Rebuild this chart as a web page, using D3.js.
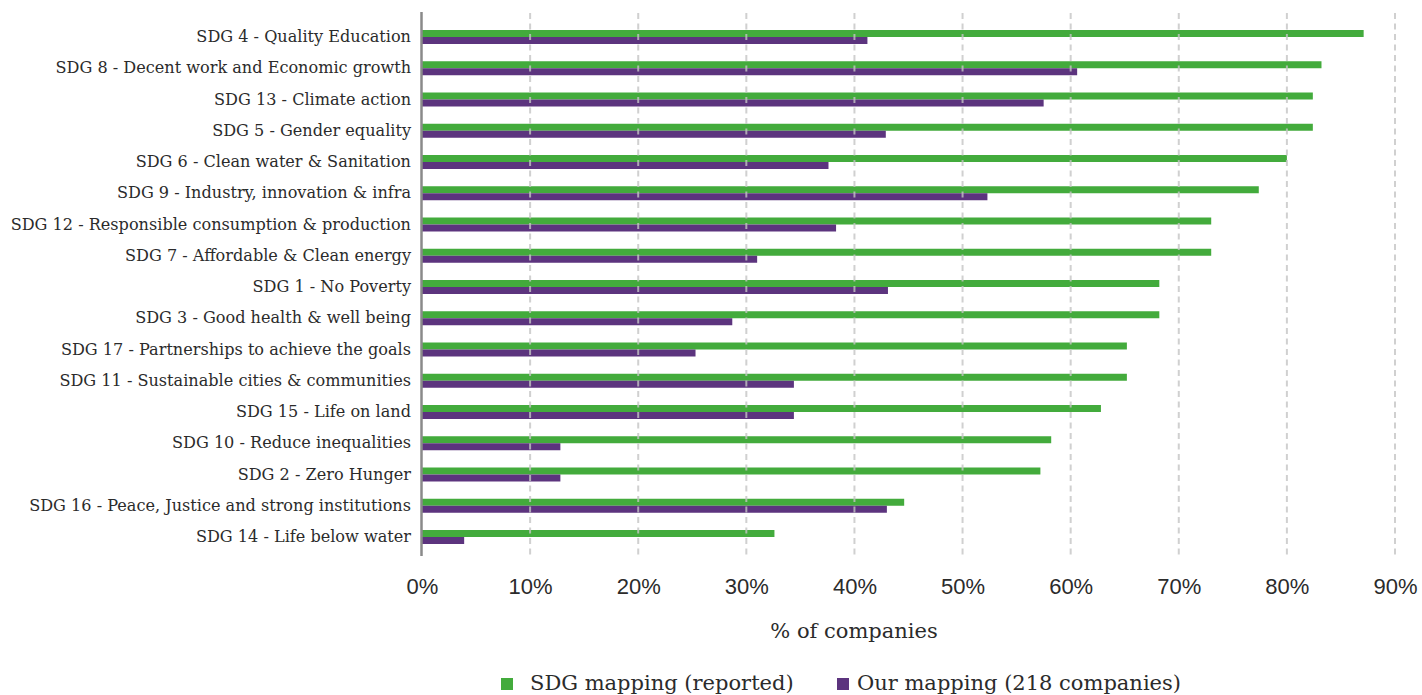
<!DOCTYPE html>
<html>
<head>
<meta charset="utf-8">
<script src="https://cdn.jsdelivr.net/npm/d3@7"></script>
<style>
    body { margin: 0; background: #fff; }
    svg { display: block; }
</style>
</head>
<body>
<svg id="chart" width="1422" height="695"></svg>
<script>
// categories, top to bottom
var categories = [
    "SDG 4 - Quality Education",
    "SDG 8 - Decent work and Economic growth",
    "SDG 13 - Climate action",
    "SDG 5 - Gender equality",
    "SDG 6 - Clean water & Sanitation",
    "SDG 9 - Industry, innovation & infra",
    "SDG 12 - Responsible consumption & production",
    "SDG 7 - Affordable & Clean energy",
    "SDG 1 - No Poverty",
    "SDG 3 - Good health & well being",
    "SDG 17 - Partnerships to achieve the goals",
    "SDG 11 - Sustainable cities & communities",
    "SDG 15 - Life on land",
    "SDG 10 - Reduce inequalities",
    "SDG 2 - Zero Hunger",
    "SDG 16 - Peace, Justice and strong institutions",
    "SDG 14 - Life below water"
];
// SDG mapping (reported), %
var reported = [87.1, 83.2, 82.4, 82.4, 80.0, 77.4, 73.0, 73.0, 68.2, 68.2, 65.2, 65.2, 62.8, 58.2, 57.2, 44.6, 32.6];
// Our mapping (218 companies), %
var ours = [41.2, 60.6, 57.5, 42.9, 37.6, 52.3, 38.3, 31.0, 43.1, 28.7, 25.3, 34.4, 34.4, 12.8, 12.8, 43.0, 3.9];

var ticks = [0, 10, 20, 30, 40, 50, 60, 70, 80, 90];
var seriesNames = ["SDG mapping (reported)", "Our mapping (218 companies)"];
var colors = ["#43ab3c", "#5c347e"];

var svg = d3.select("#chart");
var left = 422, right = 1395;
var serif = "'DejaVu Serif', serif";

var x = d3.scaleLinear().domain([0, 90]).range([left, right]);
var y = d3.scaleBand().domain(categories).range([21.375, 552.625]).paddingInner(0);
var sub = d3.scaleBand().domain(seriesNames).range([-7, 7]);

var rows = categories.map(function (c, i) {
    return { cat: c, vals: [reported[i], ours[i]] };
});

// bars
var g = svg.selectAll("g.row")
    .data(rows)
    .enter()
    .append("g")
    .attr("class", "row")
    .attr("transform", function (d) {
        return "translate(0," + (y(d.cat) + y.bandwidth() / 2) + ")";
    });

g.selectAll("rect")
    .data(function (d) {
        return d.vals.map(function (v, k) { return { v: v, k: k }; });
    })
    .enter()
    .append("rect")
    .attr("x", x(0))
    .attr("y", function (d) { return sub(seriesNames[d.k]); })
    .attr("width", function (d) { return x(d.v) - x(0); })
    .attr("height", sub.bandwidth())
    .attr("fill", function (d) { return colors[d.k]; });

// dashed gridlines, on top of the bars
svg.append("g")
    .selectAll("line")
    .data(ticks.slice(1))
    .enter()
    .append("line")
    .attr("x1", function (d) { return x(d); })
    .attr("x2", function (d) { return x(d); })
    .attr("y1", 13)
    .attr("y2", 556)
    .attr("stroke", "#c4c4c4")
    .attr("stroke-opacity", 0.8)
    .attr("stroke-width", 2)
    .attr("stroke-dasharray", "6,4.5");

// vertical axis line
svg.append("line")
    .attr("x1", left - 0.5).attr("x2", left - 0.5)
    .attr("y1", 12).attr("y2", 556)
    .attr("stroke", "#8a8a8a")
    .attr("stroke-width", 2.5);

// category labels
svg.append("g")
    .selectAll("text")
    .data(categories)
    .enter()
    .append("text")
    .attr("x", left - 11)
    .attr("y", function (d) { return y(d) + y.bandwidth() / 2 + 5; })
    .attr("text-anchor", "end")
    .style("font-family", serif)
    .style("font-size", "16.1px")
    .attr("fill", "#2b2b2b")
    .text(function (d) { return d; });

// x tick labels
var xAxis = d3.axisBottom(x)
    .tickValues(ticks)
    .tickSize(0)
    .tickPadding(0)
    .tickFormat(function (d) { return d + "%"; });

var ax = svg.append("g")
    .attr("transform", "translate(0,578)")
    .call(xAxis);
ax.select(".domain").remove();
ax.selectAll("text")
    .attr("dy", "0.71em")
    .style("font-family", "'Liberation Sans', Arial, sans-serif")
    .style("font-size", "22px")
    .attr("fill", "#2b2b2b");

// axis title
svg.append("text")
    .attr("x", 854)
    .attr("y", 638)
    .attr("text-anchor", "middle")
    .style("font-family", serif)
    .style("font-size", "21px")
    .attr("fill", "#2b2b2b")
    .text("% of companies");

// legend
var legendX = [501, 837];
var lg = svg.append("g")
    .selectAll("g")
    .data(seriesNames)
    .enter()
    .append("g")
    .attr("transform", function (d, i) { return "translate(" + legendX[i] + ",0)"; });

lg.append("rect")
    .attr("x", 0)
    .attr("y", 678)
    .attr("width", 12)
    .attr("height", 12)
    .attr("fill", function (d, i) { return colors[i]; });

lg.append("text")
    .attr("x", function (d, i) { return i == 0 ? 29 : 20; })
    .attr("y", 690)
    .style("font-family", serif)
    .style("font-size", "21px")
    .attr("fill", "#2b2b2b")
    .text(function (d) { return d; });
</script>
</body>
</html>
